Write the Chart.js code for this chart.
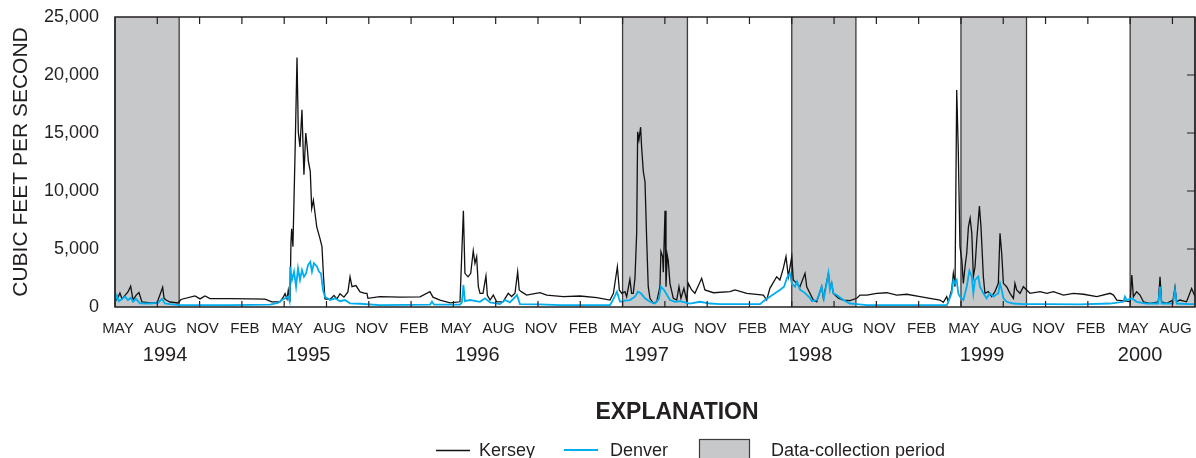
<!DOCTYPE html>
<html>
<head>
<meta charset="utf-8">
<script src="https://cdn.jsdelivr.net/npm/chart.js@4.4.1/dist/chart.umd.min.js"></script>
<style>
  html, body { margin: 0; padding: 0; background: #fff; }
  canvas { display: block; }
</style>
</head>
<body>
<canvas id="flowChart" width="1196" height="458"></canvas>
<script>
// Data (x = months since 1 May 1994, y = cubic feet per second)
const kerseyMonth = [0,0.21,0.35,0.5,0.71,0.92,1.11,1.28,1.49,1.7,1.91,2.48,2.98,3.38,3.48,3.62,3.9,4.47,4.68,5.67,6.03,6.38,6.74,8.16,9.57,10.64,11.13,11.7,11.91,12.06,12.2,12.29,12.41,12.48,12.53,12.62,12.77,12.91,13.0,13.12,13.26,13.4,13.53,13.64,13.71,13.85,13.95,14.07,14.31,14.54,14.68,14.79,14.89,15.25,15.53,15.74,15.96,16.24,16.52,16.67,16.81,17.09,17.38,17.73,17.87,17.94,18.79,20.21,21.63,22.34,22.55,23.05,23.76,24.47,24.71,24.82,25.04,25.23,25.41,25.53,25.65,25.77,25.89,26.1,26.24,26.31,26.41,26.6,26.83,27.07,27.52,27.89,28.13,28.37,28.56,28.67,28.84,29.2,30.14,30.62,31.8,32.98,34.17,35.11,35.35,35.63,35.77,35.94,36.17,36.29,36.52,36.64,36.76,36.88,37.0,37.07,37.16,37.28,37.35,37.47,37.59,37.71,37.82,37.94,38.18,38.42,38.65,38.72,38.84,38.89,39.01,39.08,39.17,39.24,39.36,39.6,39.84,40.0,40.14,40.35,40.54,40.66,40.9,41.13,41.61,41.84,42.44,43.62,43.97,44.81,45.99,46.22,46.45,46.93,47.16,47.4,47.59,47.76,48.0,48.11,48.35,48.58,48.94,49.06,49.29,49.53,49.77,50.12,50.24,50.6,50.71,50.83,50.95,51.31,51.66,52.13,52.61,52.84,53.32,54.03,54.74,55.45,56.16,57.1,57.8,58.51,58.75,58.99,59.1,59.34,59.46,59.58,59.7,59.81,59.93,60.06,60.17,60.29,60.41,60.53,60.65,60.77,60.88,61.0,61.12,61.31,61.42,61.59,61.7,61.94,62.18,62.41,62.65,62.77,62.89,63.01,63.24,63.48,63.72,63.83,63.95,64.19,64.43,64.66,64.9,65.61,66.09,66.56,67.27,67.98,68.69,69.64,70.58,70.82,71.05,71.76,72.0,72.12,72.23,72.46,72.7,72.94,73.41,74.0,74.12,74.23,74.59,75.04,75.18,75.3,75.53,76.0,76.36,76.6];
const kerseyFlow = [450,800,1200,700,1000,1300,1800,600,1000,1250,430,350,350,1700,750,600,430,350,650,950,700,950,720,720,700,680,450,450,800,1150,700,1450,450,5500,6750,5200,13200,21500,15100,13800,17000,11400,15000,13700,12600,11700,8500,9200,6900,5900,5200,2600,700,650,1000,700,1150,850,1300,2600,1750,1850,1300,1180,1180,750,890,850,880,1320,850,600,350,450,8300,2900,2600,2900,4850,3770,4340,1750,1180,1180,2180,2670,1000,600,1030,450,450,1180,900,1180,3040,1470,1300,1030,1230,1030,890,950,800,600,1180,3470,1470,1180,1320,890,2390,1180,1180,2500,6350,15100,14400,15500,13800,11700,10800,5800,1750,750,320,450,1750,4770,4340,3000,8300,1750,4480,4000,2040,750,600,1750,750,1610,600,2040,1470,1180,2470,1470,1230,1320,1470,1180,1030,600,1610,2610,2330,3330,4340,2610,4340,2330,2040,1750,2900,1750,1180,600,450,1750,750,2900,1750,2040,1180,750,600,550,750,1030,1030,1180,1230,1030,1100,890,750,600,400,890,450,1470,2900,1750,18700,13500,5200,4050,2040,3470,4630,6920,7650,6350,2610,3470,5780,8700,6920,2610,1180,1320,890,1320,2040,6350,4630,2040,1750,1180,750,2040,1470,1180,1750,1470,1180,1320,1180,1320,1030,1180,1100,890,1180,1030,600,500,450,2760,890,1320,1030,450,320,450,2610,450,320,600,1700,450,600,450,1600,900];

const denverMonth = [0,0.14,0.28,0.5,0.71,0.92,1.13,1.28,1.49,1.77,2.48,3.05,3.33,3.55,3.9,4.61,8.16,10.99,11.56,11.84,12.06,12.27,12.38,12.43,12.55,12.7,12.84,12.98,13.12,13.26,13.4,13.55,13.69,13.85,13.97,14.11,14.33,14.47,14.61,14.75,14.89,15.25,15.6,15.96,16.31,16.67,17.38,18.79,22.34,22.48,22.63,24.47,24.61,24.71,24.82,25.18,25.89,26.24,26.6,27.3,27.66,28.01,28.51,28.72,30.14,31.56,35.11,35.25,35.6,35.82,36.17,36.52,36.88,37.09,37.3,37.59,37.94,38.3,38.58,38.72,38.94,39.08,39.36,39.72,40.07,40.78,41.49,42.2,42.91,45.75,46.1,46.45,46.81,47.16,47.45,47.66,47.87,48.01,48.23,48.37,48.58,48.94,49.29,49.43,49.79,50.12,50.28,50.6,50.71,50.83,50.95,51.19,51.66,52.13,52.61,53.32,59.0,59.1,59.34,59.46,59.58,59.7,59.81,59.93,60.17,60.41,60.6,60.77,60.88,61.0,61.23,61.35,61.59,61.82,62.06,62.3,62.65,62.77,62.89,63.01,63.24,63.72,64.43,66.09,68.44,70.58,71.52,71.63,71.76,72.12,72.46,73.17,74.0,74.12,74.23,75.04,75.18,75.3,76.17,76.6];
const denverFlow = [450,1000,500,700,900,600,800,450,700,320,300,350,700,300,250,170,170,200,350,600,750,900,500,3470,2330,3040,1750,3330,2330,3190,2610,2900,3620,3900,3040,3770,3470,3040,2900,1470,890,600,750,500,600,320,280,170,200,460,200,200,400,1900,500,600,450,750,400,250,600,400,1030,250,220,170,170,450,1320,450,550,600,890,1320,1180,750,450,300,700,1750,1470,1180,600,450,500,300,450,300,250,250,600,890,1180,1470,1750,2500,2900,2000,1750,2200,1500,1200,800,500,600,1750,750,2900,1470,2040,1180,1030,600,300,250,170,170,450,1180,2330,2040,2330,1180,890,600,1750,3130,2610,1180,2330,2610,1750,1180,750,1180,890,1180,2040,1470,750,450,300,250,250,220,300,450,890,600,750,450,300,300,1750,300,300,1470,300,250,250];

// Data-collection periods (months since 1 May 1994)
const periodStart = [0, 36, 48, 60, 72];
const periodEnd = [4.55, 40.6, 52.55, 64.65, 76.6];

// Tick labels (one every 3 months)
const monthNames = ['MAY', 'AUG', 'NOV', 'FEB'];
const monthTicks = [0,3,6,9,12,15,18,21,24,27,30,33,36,39,42,45,48,51,54,57,60,63,66,69,72,75];
const yearLabels = ['1994', '1995', '1996', '1997', '1998', '1999', '2000'];
const yearMonth = [3.55, 13.7, 25.7, 37.7, 49.3, 61.5, 72.7];

const INK = '#231f20';
const BLUE = '#00aeef';
const SHADE = '#c7c8ca';
const FONT = "'Liberation Sans', Arial, sans-serif";

// Shading, frame, inward ticks, year row and explanation
const decorPlugin = {
    id: 'decor',
    beforeDatasetsDraw(chart) {
        const { ctx, chartArea: a, scales: { x } } = chart;
        ctx.save();
        periodStart.forEach((s, i) => {
            const x0 = x.getPixelForValue(s);
            const x1 = x.getPixelForValue(periodEnd[i]);
            ctx.fillStyle = SHADE;
            ctx.fillRect(x0, a.top, x1 - x0, a.bottom - a.top);
            ctx.strokeStyle = '#3c3c3c';
            ctx.lineWidth = 1.3;
            ctx.beginPath();
            ctx.moveTo(x0, a.top); ctx.lineTo(x0, a.bottom);
            ctx.moveTo(x1, a.top); ctx.lineTo(x1, a.bottom);
            ctx.stroke();
        });
        ctx.restore();
    },
    afterDatasetsDraw(chart) {
        const { ctx, chartArea: a, scales: { x, y } } = chart;
        ctx.save();
        ctx.strokeStyle = INK;
        ctx.lineWidth = 1.5;
        ctx.strokeRect(a.left, a.top, a.right - a.left, a.bottom - a.top);
        ctx.lineWidth = 1.2;
        ctx.beginPath();
        x.ticks.forEach(t => {
            if (t.value <= 0) return;
            const px = x.getPixelForValue(t.value);
            ctx.moveTo(px, a.top); ctx.lineTo(px, a.top + 7);
            ctx.moveTo(px, a.bottom); ctx.lineTo(px, a.bottom - 6);
        });
        y.ticks.forEach(t => {
            if (t.value <= 0 || t.value >= 25000) return;
            const py = y.getPixelForValue(t.value);
            ctx.moveTo(a.right, py); ctx.lineTo(a.right - 8, py);
        });
        ctx.stroke();
        ctx.restore();
    },
    afterDraw(chart) {
        const { ctx, scales: { x } } = chart;
        ctx.save();
        ctx.fillStyle = INK;
        ctx.textAlign = 'center';
        ctx.textBaseline = 'middle';
        ctx.font = '20px ' + FONT;
        yearLabels.forEach((lab, i) => {
            ctx.fillText(lab, x.getPixelForValue(yearMonth[i]), 355);
        });

        ctx.font = 'bold 23px ' + FONT;
        ctx.fillText('EXPLANATION', 677, 413);

        // legend row
        ctx.textAlign = 'left';
        ctx.font = '18px ' + FONT;
        ctx.lineWidth = 1.3;
        ctx.strokeStyle = '#111';
        ctx.beginPath(); ctx.moveTo(436, 450.5); ctx.lineTo(470, 450.5); ctx.stroke();
        ctx.fillText('Kersey', 479, 451);
        ctx.strokeStyle = BLUE;
        ctx.lineWidth = 2;
        ctx.beginPath(); ctx.moveTo(564, 450); ctx.lineTo(598, 450); ctx.stroke();
        ctx.fillText('Denver', 610, 451);
        ctx.fillStyle = SHADE;
        ctx.fillRect(699, 439, 50, 24);
        ctx.strokeStyle = '#3c3c3c';
        ctx.lineWidth = 1.2;
        ctx.strokeRect(699.5, 439.5, 50, 24);
        ctx.fillStyle = INK;
        ctx.fillText('Data-collection period', 771, 451);
        ctx.restore();
    }
};

// Chart Setup
const ctx = document.getElementById('flowChart').getContext('2d');

const chart = new Chart(ctx, {
    type: 'line',
    data: {
        datasets: [
            {
                label: 'Denver',
                data: denverMonth.map((m, i) => ({ x: m, y: denverFlow[i] })),
                borderColor: BLUE,
                borderWidth: 1.8,
                pointRadius: 0,
                tension: 0,
                order: 1
            },
            {
                label: 'Kersey',
                data: kerseyMonth.map((m, i) => ({ x: m, y: kerseyFlow[i] })),
                borderColor: '#111',
                borderWidth: 1.3,
                pointRadius: 0,
                tension: 0,
                order: 2
            }
        ]
    },
    options: {
        responsive: false,
        animation: false,
        devicePixelRatio: 1,
        events: [],
        layout: { padding: { top: 17, right: 1, left: 0, bottom: 0 } },
        plugins: { legend: { display: false }, tooltip: { enabled: false } },
        scales: {
            x: {
                type: 'linear',
                min: 0,
                max: 76.6,
                grid: { display: false },
                border: { display: false },
                afterBuildTicks: axis => {
                    axis.ticks = monthTicks.map(v => ({ value: v }));
                },
                afterFit: axis => {
                    axis.height = 151;
                    axis.paddingLeft = 0;
                    axis.paddingRight = 0;
                },
                ticks: {
                    autoSkip: false,
                    maxRotation: 0,
                    padding: 5,
                    labelOffset: 3,
                    color: INK,
                    font: { family: FONT, size: 15 },
                    callback: v => monthNames[Math.round(v / 3) % 4]
                }
            },
            y: {
                min: 0,
                max: 25000,
                grid: { display: false },
                border: { display: false },
                afterFit: axis => {
                    axis.width = 115;
                    axis.paddingTop = 0;
                    axis.paddingBottom = 0;
                },
                ticks: {
                    stepSize: 5000,
                    padding: 8,
                    color: INK,
                    font: { family: FONT, size: 18 },
                    callback: v => v.toLocaleString('en-US')
                },
                title: {
                    display: true,
                    text: 'CUBIC FEET PER SECOND',
                    color: INK,
                    font: { family: FONT, size: 21 },
                    padding: { top: 9, bottom: 0 }
                }
            }
        }
    },
    plugins: [decorPlugin]
});
</script>
</body>
</html>
